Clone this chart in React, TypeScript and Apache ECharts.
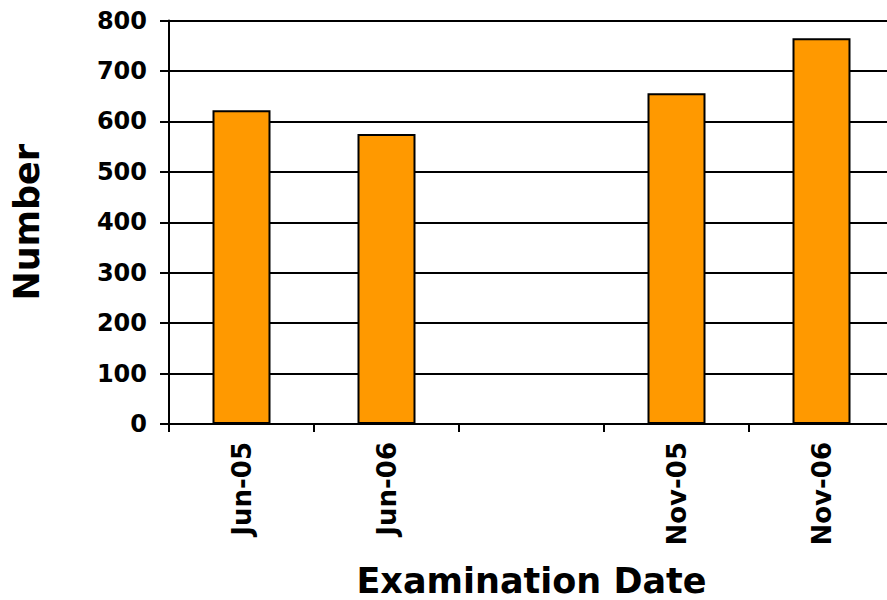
import React, { useEffect, useRef } from "react";
import * as echarts from "echarts";

const categories = ["Jun-05", "Jun-06", "", "Nov-05", "Nov-06"];
const values: (number | null)[] = [622, 575, null, 656, 765];
const yMin = 0;
const yMax = 800;
const yInterval = 100;
const xTitle = "Examination Date";
const yTitle = "Number";

const FONT = "'DejaVu Sans', Verdana, sans-serif";

export default function App() {
  const ref = useRef<HTMLDivElement>(null);
  useEffect(() => {
    if (!ref.current) return;
    const chart = echarts.init(ref.current, undefined, { renderer: "svg" });
    chart.setOption({
      animation: false,
      backgroundColor: "#ffffff",
      grid: {
        left: 169,
        top: 20.5,
        width: 725,
        height: 403.5,
        containLabel: false,
        outerBoundsMode: "none",
      },
      xAxis: {
        type: "category",
        data: categories,
        name: xTitle,
        nameLocation: "middle",
        nameGap: 139,
        nameTextStyle: { fontFamily: FONT, fontWeight: "bold", fontSize: 35, color: "#000" },
        axisLine: { show: true, lineStyle: { color: "#000", width: 2 } },
        axisTick: { show: true, length: 8, interval: 0, lineStyle: { color: "#000", width: 2 } },
        axisLabel: {
          interval: 0,
          rotate: 90,
          margin: 18,
          fontFamily: FONT,
          fontWeight: "bold",
          fontSize: 26,
          color: "#000",
        },
        splitLine: { show: false },
      },
      yAxis: {
        type: "value",
        min: yMin,
        max: yMax,
        interval: yInterval,
        name: yTitle,
        nameLocation: "middle",
        nameGap: 125,
        nameTextStyle: { fontFamily: FONT, fontWeight: "bold", fontSize: 35, color: "#000" },
        axisLine: { show: true, lineStyle: { color: "#000", width: 2 } },
        axisTick: { show: true, length: 9, lineStyle: { color: "#000", width: 2 } },
        axisLabel: {
          margin: 22,
          fontFamily: FONT,
          fontWeight: "bold",
          fontSize: 24,
          color: "#000",
        },
        splitLine: { show: true, lineStyle: { color: "#000", width: 2 } },
      },
      series: [
        {
          type: "bar",
          data: values,
          barWidth: "40%",
          itemStyle: { color: "#FF9900", borderColor: "#000", borderWidth: 2 },
        },
      ],
    });
    return () => chart.dispose();
  }, []);
  return (
    <div
      ref={ref}
      style={{ position: "absolute", left: 0, top: 0, width: 887, height: 600 }}
    />
  );
}
